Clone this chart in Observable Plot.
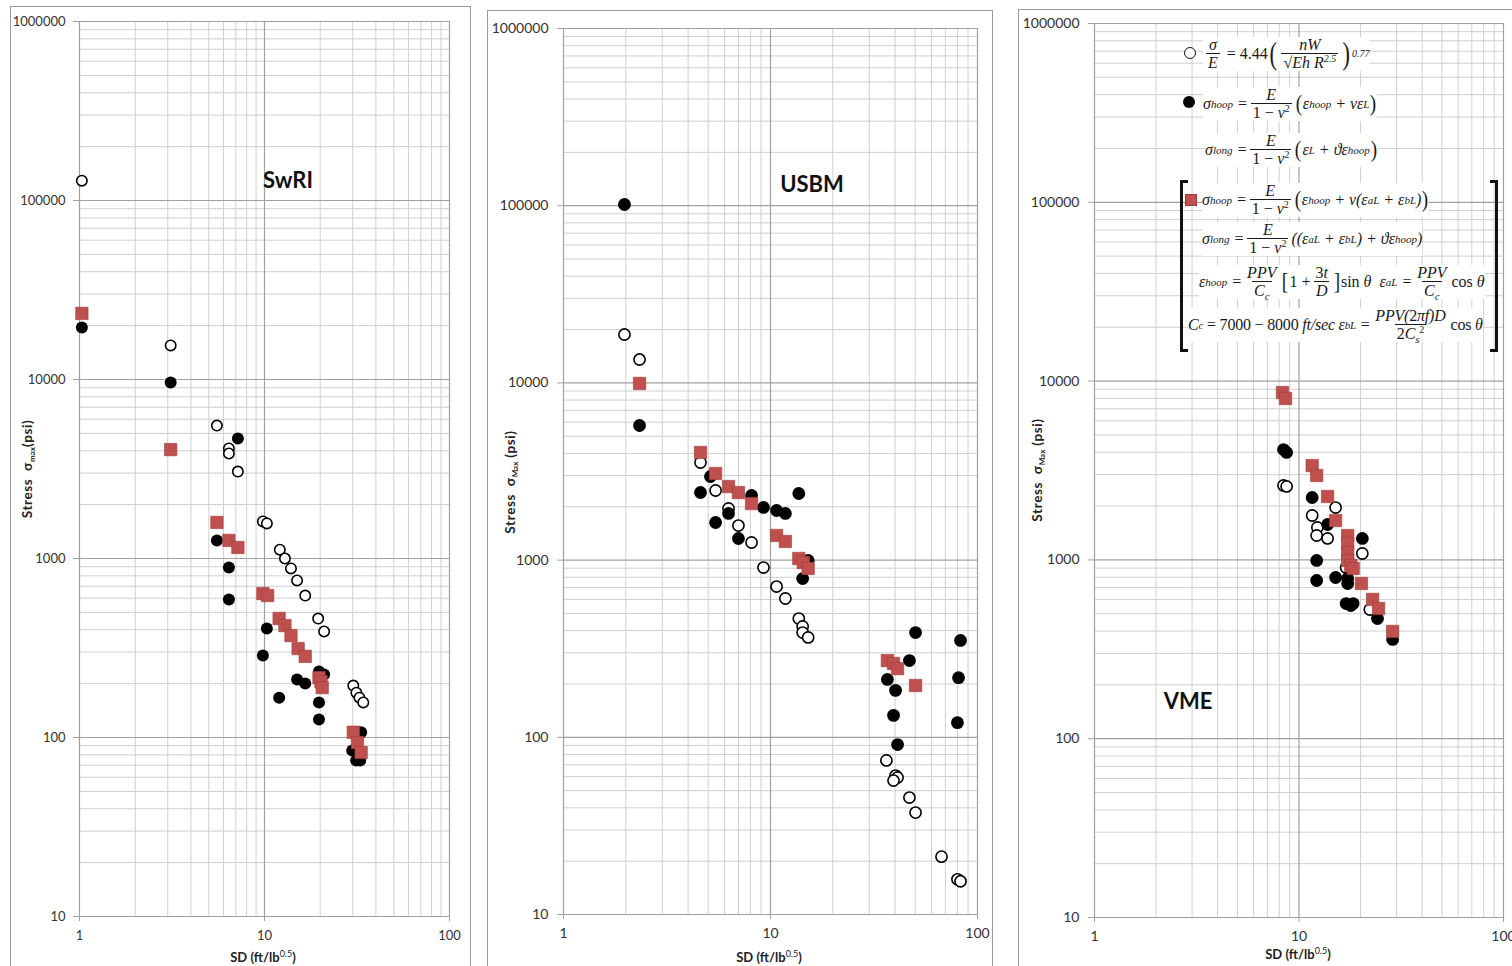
<!DOCTYPE html>
<html>
<head>
<meta charset="utf-8">
<script src="https://cdn.jsdelivr.net/npm/d3@7"></script>
<script src="https://cdn.jsdelivr.net/npm/@observablehq/plot@0.6"></script>
<style>
  html, body { margin: 0; padding: 0; }
  body { width: 1512px; height: 966px; overflow: hidden; background: #fff; position: relative; font-family: Lato, "Open Sans", sans-serif; }
  .panel { position: absolute; border: 1px solid #9a9a9a; box-sizing: border-box; overflow: hidden; background: #fff; }
  .panel svg { display: block; }
  .eq { position: absolute; font-family: "Liberation Serif", "DejaVu Serif", serif; font-style: italic; font-size: 16px; color: #1a1a1a; background: #fff; white-space: nowrap; display: flex; align-items: center; line-height: 1.0; transform: translateY(-50%); }
  .fr { display: inline-flex; flex-direction: column; align-items: center; margin: 0 3px; }
  .fr > span { display: block; padding: 0 2px; }
  .fr > span + span { border-top: 1px solid #1a1a1a; padding-top: 1px; }
  .eq sub { font-size: 11px; vertical-align: -4px; line-height: 0; }
  .eq sup { font-size: 10px; vertical-align: 6px; line-height: 0; }
  .n { font-style: normal; }
  .big { font-size: 32px; font-style: normal; line-height: 0.8; transform: scaleX(0.7); display: inline-block; }
  .mid { font-size: 24px; font-style: normal; line-height: 0.8; transform: scaleX(0.8); display: inline-block; }
  .bracket { position: absolute; border: 3px solid #111; box-sizing: border-box; }
  .mk { position: absolute; box-sizing: border-box; }
</style>
</head>
<body>
<div id="p1" class="panel" style="left:10px;top:6px;width:461px;height:972px"></div>
<div id="p2" class="panel" style="left:487px;top:10px;width:506px;height:972px"></div>
<div id="p3" class="panel" style="left:1018px;top:9px;width:500px;height:972px"></div>

<!-- VME legend (formula box) -->
<div class="mk" style="left:1184px;top:47px;width:12px;height:12px;border:1.6px solid #111;border-radius:50%;background:#fff"></div>
<div class="eq" style="left:1203px;top:54px">
  <span class="fr"><span>σ</span><span>E</span></span><span class="n">&nbsp;= 4.44</span>
  <span class="big">(</span><span class="fr"><span>nW</span><span>√<span style="text-decoration:overline">Eh</span>&nbsp;R<sup>2.5</sup></span></span><span class="big">)</span><sup style="vertical-align:18px">0.77</sup>
</div>
<div class="mk" style="left:1183px;top:96px;width:12px;height:12px;border-radius:50%;background:#000"></div>
<div class="eq" style="left:1203px;top:104px">
  σ<sub>hoop</sub>&nbsp;=<span class="fr"><span>E</span><span><span class="n">1 − </span>v<sup class="n">2</sup></span></span><span class="mid">(</span>ε<sub>hoop</sub>&nbsp;+ vε<sub>L</sub><span class="mid">)</span>
</div>
<div class="eq" style="left:1205px;top:150px">
  σ<sub>long</sub>&nbsp;=<span class="fr"><span>E</span><span><span class="n">1 − </span>v<sup class="n">2</sup></span></span><span class="mid">(</span>ε<sub>L</sub>&nbsp;+ ϑε<sub>hoop</sub><span class="mid">)</span>
</div>
<div class="bracket" style="left:1180px;top:180px;width:8px;height:172px;border-right:none"></div>
<div class="bracket" style="left:1490px;top:180px;width:8px;height:172px;border-left:none"></div>
<div class="mk" style="left:1185px;top:194px;width:12px;height:12px;background:#c0504d;border:0.6px solid #9e3b38"></div>
<div class="eq" style="left:1202px;top:200px">
  σ<sub>hoop</sub>&nbsp;=<span class="fr"><span>E</span><span><span class="n">1 − </span>v<sup class="n">2</sup></span></span><span class="mid">(</span>ε<sub>hoop</sub>&nbsp;+ v(ε<sub>aL</sub>&nbsp;+ ε<sub>bL</sub>)<span class="mid">)</span>
</div>
<div class="eq" style="left:1202px;top:239px">
  σ<sub>long</sub>&nbsp;=<span class="fr"><span>E</span><span><span class="n">1 − </span>v<sup class="n">2</sup></span></span>((ε<sub>aL</sub>&nbsp;+ ε<sub>bL</sub>) + ϑε<sub>hoop</sub>)
</div>
<div class="eq" style="left:1199px;top:282px">
  ε<sub>hoop</sub>&nbsp;=<span class="fr"><span>PPV</span><span>C<sub>c</sub></span></span><span class="mid">[</span><span class="n">1 +</span><span class="fr"><span><span class="n">3</span>t</span><span>D</span></span><span class="mid">]</span><span class="n">sin</span>&nbsp;θ&nbsp;&nbsp;ε<sub>aL</sub>&nbsp;=<span class="fr"><span>PPV</span><span>C<sub>c</sub></span></span><span class="n">cos</span>&nbsp;θ
</div>
<div class="eq" style="left:1188px;top:325px;letter-spacing:-0.2px">
  C<sub>c</sub>&nbsp;<span class="n">= 7000 − 8000</span>&nbsp;ft/sec&nbsp;ε<sub>bL</sub>&nbsp;=<span class="fr"><span>PPV(<span class="n">2</span>πf)D</span><span><span class="n">2</span>C<sub>s</sub><sup class="n">2</sup></span></span><span class="n">cos</span>&nbsp;θ
</div>

<script>
// ---------- tick values ----------
const X_TICKS = [1, 10, 100];
const Y_TICKS = [10, 100, 1000, 10000, 100000, 1000000];
const MINOR_STEPS = [2, 3, 4, 5, 6, 7, 8, 9];

// ---------- SwRI ----------
const swriOpenX   = [1.03, 3.11, 5.53, 6.42, 6.42, 7.18, 9.8, 10.3, 12.1, 12.9, 13.9, 15.0, 16.6, 19.5, 21.0, 30.2, 31.4, 32.6, 34.2];
const swriOpenY   = [129000, 15500, 5530, 4120, 3860, 3060, 1610, 1570, 1120, 1000, 880, 754, 621, 462, 391, 195, 178, 167, 157];
const swriFilledX = [1.03, 3.11, 7.18, 5.53, 6.42, 6.42, 10.3, 9.8, 12.0, 15.0, 16.6, 19.7, 21.0, 19.7, 19.7, 33.3, 29.8, 31.3, 32.9];
const swriFilledY = [19500, 9620, 4680, 1260, 891, 590, 406, 287, 167, 211, 200, 234, 225, 157, 126, 107, 84.6, 74.4, 74.4];
const swriSquareX = [1.03, 3.11, 5.53, 6.42, 7.18, 9.8, 10.4, 12.0, 12.9, 13.9, 15.2, 16.6, 19.7, 20.2, 20.5, 30.2, 31.8, 33.3];
const swriSquareY = [23400, 4060, 1590, 1262, 1152, 637, 621, 462, 422, 371, 314, 284, 216, 205, 190, 107, 93.8, 82.4];

// ---------- USBM ----------
const usbmOpenX   = [1.97, 2.33, 4.59, 5.43, 6.27, 7.0, 8.1, 9.25, 10.7, 11.8, 13.7, 14.3, 14.3, 15.2, 36.3, 40.2, 41.1, 39.3, 46.9, 50.2, 67.0, 80.0, 82.8];
const usbmOpenY   = [18750, 13550, 3555, 2470, 1955, 1567, 1257, 908, 709, 607, 468, 422, 390, 366, 74, 60.8, 59.3, 57.0, 45.7, 37.6, 21.2, 15.8, 15.4];
const usbmFilledX = [1.97, 2.33, 4.59, 5.13, 5.43, 6.27, 7.0, 8.1, 9.25, 10.7, 11.8, 13.7, 15.2, 14.3, 50.2, 82.8, 46.9, 36.7, 40.2, 39.3, 41.1, 81.0, 80.0];
const usbmFilledY = [101600, 5750, 2407, 2963, 1630, 1833, 1324, 2315, 1982, 1905, 1833, 2376, 995, 787, 390, 352, 271, 212, 184, 133, 91, 217, 121];
const usbmSquareX = [2.33, 4.59, 5.43, 6.27, 7.0, 8.1, 10.7, 11.8, 13.7, 14.4, 15.2, 36.7, 39.3, 41.1, 50.2];
const usbmSquareY = [9930, 4050, 3080, 2600, 2405, 2086, 1377, 1274, 1021, 969, 897, 271, 261, 244, 196];

// ---------- VME ----------
const vmeOpenX   = [8.4, 8.7, 11.6, 15.1, 12.3, 12.2, 13.8, 20.4, 17.0, 22.2];
const vmeOpenY   = [2607, 2575, 1771, 1963, 1518, 1369, 1318, 1086, 906, 528];
const vmeFilledX = [8.4, 8.7, 11.6, 13.8, 12.2, 12.2, 15.1, 17.3, 17.3, 20.4, 17.0, 17.9, 18.4, 24.2, 28.7];
const vmeFilledY = [4140, 3990, 2234, 1578, 993, 767, 797, 787, 738, 1318, 570, 556, 570, 470, 359];
const vmeSquareX = [8.3, 8.59, 11.6, 12.2, 13.8, 15.1, 17.3, 17.3, 17.3, 17.3, 17.9, 18.4, 20.2, 22.9, 24.5, 28.7];
const vmeSquareY = [8630, 7990, 3370, 2966, 2263, 1660, 1368, 1235, 1100, 993, 931, 895, 738, 601, 535, 398];

const xMinor = X_TICKS.slice(0, -1).flatMap(d => MINOR_STEPS.map(s => d * s));
const yMinor = Y_TICKS.slice(0, -1).flatMap(d => MINOR_STEPS.map(s => d * s));

const pts = (xs, ys) => ys.map((y, i) => ({x: xs[i], y}));

function makePanel(cfg) {
  const el = document.getElementById(cfg.id);
  const W = el.clientWidth, H = 962;
  const svg = Plot.plot({
    width: W, height: H,
    marginLeft: cfg.ml, marginRight: W - cfg.plotRight, marginTop: cfg.mt, marginBottom: H - cfg.plotBottom,
    style: {fontFamily: "Lato, 'Open Sans', sans-serif", fontSize: cfg.fs + "px", color: "#333", background: "transparent", overflow: "visible"},
    x: {type: "log", domain: [1, 100]},
    y: {type: "log", domain: [10, 1e6]},
    marks: [
      Plot.ruleY(yMinor, {stroke: "#cfcfcf", strokeWidth: 1}),
      Plot.ruleX(xMinor, {stroke: "#cfcfcf", strokeWidth: 1}),
      Plot.ruleY(Y_TICKS, {stroke: "#a0a0a0", strokeWidth: 1.2}),
      Plot.ruleX(X_TICKS, {stroke: "#a0a0a0", strokeWidth: 1.2}),
      Plot.axisY(Y_TICKS, {tickFormat: d => String(d), tickSize: 6, tickPadding: cfg.ypad, stroke: "#a0a0a0", fill: "#333", label: null}),
      Plot.axisX(X_TICKS, {tickFormat: d => String(d), tickSize: 5, tickPadding: 9, stroke: "#a0a0a0", fill: "#333", label: null}),
      Plot.dot(pts(cfg.openX, cfg.openY), {x: "x", y: "y", r: cfg.r - 0.8, fill: "white", stroke: "#000", strokeWidth: 1.6}),
      Plot.dot(pts(cfg.filledX, cfg.filledY), {x: "x", y: "y", r: cfg.r, fill: "#000"}),
      Plot.dot(pts(cfg.squareX, cfg.squareY), {x: "x", y: "y", r: 7, symbol: "square", fill: "#c0504d", stroke: "#a03d3a", strokeWidth: 0.6})
    ]
  });
  el.appendChild(svg);
  const s = d3.select(svg);
  // panel title
  s.append("text").attr("x", cfg.title[1]).attr("y", cfg.title[2]).attr("text-anchor", "middle")
    .attr("font-family", "Lato, sans-serif").attr("font-weight", "bold").attr("font-size", 22).attr("fill", "#111").text(cfg.title[0]);
  // x axis title
  const xt = s.append("text").attr("x", cfg.xt[0]).attr("y", cfg.xt[1]).attr("text-anchor", "middle")
    .attr("font-family", "Lato, sans-serif").attr("font-weight", "bold").attr("font-size", 13).attr("fill", "#222");
  xt.append("tspan").text("SD (ft/lb");
  xt.append("tspan").attr("dy", -5).attr("font-size", 9).attr("font-weight", "normal").text("0.5");
  xt.append("tspan").attr("dy", 5).text(")");
  // y axis title
  const yt = s.append("text").attr("transform", `translate(${cfg.yt[0]},${cfg.yt[1]}) rotate(-90)`).attr("text-anchor", "middle")
    .attr("font-family", "Lato, sans-serif").attr("font-weight", "bold").attr("font-size", 13.5).attr("fill", "#222")
    .attr("letter-spacing", 0.6);
  yt.append("tspan").text("Stress  σ");
  yt.append("tspan").attr("dy", 3).attr("font-size", 8).attr("letter-spacing", 0).text(cfg.sub);
  yt.append("tspan").attr("dy", -3).text(cfg.sub === "max" ? "(psi)" : " (psi)");
}

// origins of each panel's inner box (page coords): p1 (11,7), p2 (488,11), p3 (1019,10)
makePanel({id: "p1", ml: 68, plotRight: 438, mt: 14, plotBottom: 909, fs: 13, ypad: 8, r: 6,
  openX: swriOpenX, openY: swriOpenY, filledX: swriFilledX, filledY: swriFilledY, squareX: swriSquareX, squareY: swriSquareY,
  title: ["SwRI", 277, 181], xt: [252, 955], yt: [21, 462], sub: "max"});
makePanel({id: "p2", ml: 75, plotRight: 489, mt: 17, plotBottom: 903, fs: 14, ypad: 9, r: 6.4,
  openX: usbmOpenX, openY: usbmOpenY, filledX: usbmFilledX, filledY: usbmFilledY, squareX: usbmSquareX, squareY: usbmSquareY,
  title: ["USBM", 324, 181], xt: [281, 951], yt: [27, 471], sub: "Max"});
makePanel({id: "p3", ml: 75, plotRight: 484, mt: 13, plotBottom: 907, fs: 14, ypad: 9, r: 6.4,
  openX: vmeOpenX, openY: vmeOpenY, filledX: vmeFilledX, filledY: vmeFilledY, squareX: vmeSquareX, squareY: vmeSquareY,
  title: ["VME", 169, 699], xt: [279, 949], yt: [23, 460], sub: "Max"});
</script>
</body>
</html>
